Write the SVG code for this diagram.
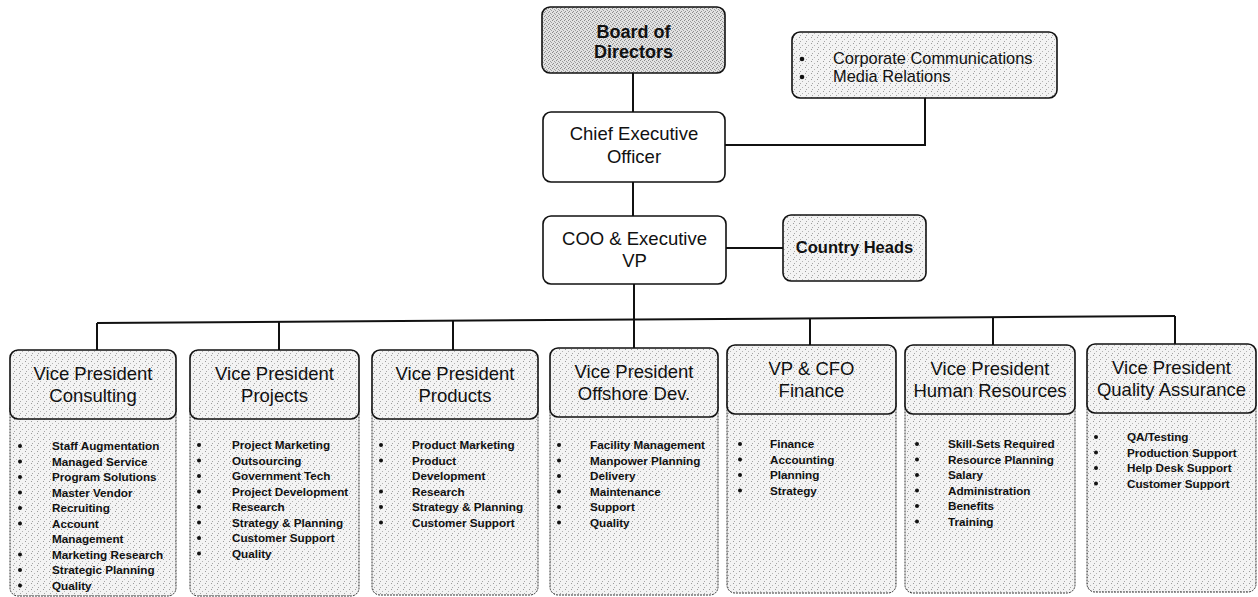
<svg xmlns="http://www.w3.org/2000/svg" width="1258" height="597" viewBox="0 0 1258 597">
<defs>
<pattern id="stip" width="6" height="6" patternUnits="userSpaceOnUse">
<rect width="6" height="6" fill="#f3f3f3"/>
<rect x="1" y="1" width="1" height="1" fill="#9a9a9a"/>
<rect x="4" y="3" width="1" height="1" fill="#b4b4b4"/>
<rect x="2" y="5" width="1" height="1" fill="#a6a6a6"/>
</pattern>
<pattern id="stipD" width="4" height="4" patternUnits="userSpaceOnUse">
<rect width="4" height="4" fill="#e2e2e2"/>
<rect x="0" y="0" width="1" height="1" fill="#8a8a8a"/>
<rect x="2" y="1" width="1" height="1" fill="#999"/>
<rect x="1" y="3" width="1" height="1" fill="#909090"/>
<rect x="3" y="2" width="1" height="1" fill="#a0a0a0"/>
</pattern>
</defs>
<style>
text{font-family:"Liberation Sans",Arial,sans-serif;fill:#111}
.box{stroke:#111;stroke-width:1.6}
.w{fill:#fff}
.s{fill:url(#stip)}
.d{fill:url(#stipD)}
.low{fill:url(#stip);stroke:#333;stroke-width:1;stroke-dasharray:2 1}
.h{font-size:18.5px;text-anchor:middle}
.hb{font-size:18px;font-weight:bold;text-anchor:middle}
.ch{font-size:16.5px;font-weight:bold;text-anchor:middle}
.cm{font-size:16.4px}
.li{font-size:11.7px;font-weight:bold}
.bul{fill:#111}
.con{fill:none;stroke:#111;stroke-width:2}
</style>
<rect width="1258" height="597" fill="#fff"/>
<g id="connectors">
<path class="con" d="M633 73V112"/>
<path class="con" d="M725 145H925V98"/>
<path class="con" d="M633 182V216"/>
<path class="con" d="M726 248H783"/>
<path class="con" d="M634 284V348"/>
<path class="con" d="M97 323L1175 316"/>
<path class="con" d="M97 323V350"/>
<path class="con" d="M279 321.8V350"/>
<path class="con" d="M453 320.7V350"/>
<path class="con" d="M810 318.4V345"/>
<path class="con" d="M993 317.2V345"/>
<path class="con" d="M1175 316V344"/>
</g>
<g id="board">
<rect class="box d" x="542" y="7" width="183" height="66" rx="8"/>
<text class="hb" x="633.5" y="38">Board of</text>
<text class="hb" x="633.5" y="58">Directors</text>
</g>
<g id="ceo">
<rect class="box w" x="543" y="112" width="182" height="70" rx="8"/>
<text class="h" x="634" y="140">Chief Executive</text>
<text class="h" x="634" y="163">Officer</text>
</g>
<g id="communications">
<rect class="box s" x="792" y="32" width="265" height="66" rx="8"/>
<circle class="bul" cx="802" cy="59" r="2.3"/>
<circle class="bul" cx="802" cy="77" r="2.3"/>
<text class="cm" x="833" y="64">Corporate Communications</text>
<text class="cm" x="833" y="82">Media Relations</text>
</g>
<g id="coo">
<rect class="box w" x="543" y="216" width="183" height="68" rx="8"/>
<text class="h" x="634.5" y="245">COO &amp; Executive</text>
<text class="h" x="634.5" y="267">VP</text>
</g>
<g id="country-heads">
<rect class="box s" x="783" y="215" width="143" height="66" rx="8"/>
<text class="ch" x="854.5" y="253">Country Heads</text>
</g>
<g id="vp-consulting">
<rect class="low" x="10" y="400" width="166" height="196" rx="8"/>
<rect class="box s" x="10" y="350" width="166" height="69" rx="8"/>
<text class="h" x="93" y="380">Vice President</text>
<text class="h" x="93" y="402">Consulting</text>
<g class="bul"><circle cx="20" cy="446" r="2"/><circle cx="20" cy="461.5" r="2"/><circle cx="20" cy="477" r="2"/><circle cx="20" cy="492.5" r="2"/><circle cx="20" cy="508" r="2"/><circle cx="20" cy="523.5" r="2"/><circle cx="20" cy="554.5" r="2"/><circle cx="20" cy="570" r="2"/><circle cx="20" cy="585.5" r="2"/></g>
<text class="li" x="52" y="450">Staff Augmentation</text>
<text class="li" x="52" y="465.5">Managed Service</text>
<text class="li" x="52" y="481">Program Solutions</text>
<text class="li" x="52" y="496.5">Master Vendor</text>
<text class="li" x="52" y="512">Recruiting</text>
<text class="li" x="52" y="527.5">Account</text>
<text class="li" x="52" y="543">Management</text>
<text class="li" x="52" y="558.5">Marketing Research</text>
<text class="li" x="52" y="574">Strategic Planning</text>
<text class="li" x="52" y="589.5">Quality</text>
</g>
<g id="vp-projects">
<rect class="low" x="190" y="400" width="169" height="196" rx="8"/>
<rect class="box s" x="190" y="350" width="169" height="69" rx="8"/>
<text class="h" x="274.5" y="380">Vice President</text>
<text class="h" x="274.5" y="402">Projects</text>
<g class="bul"><circle cx="199" cy="445" r="2"/><circle cx="199" cy="460.5" r="2"/><circle cx="199" cy="476" r="2"/><circle cx="199" cy="491.5" r="2"/><circle cx="199" cy="507" r="2"/><circle cx="199" cy="522.5" r="2"/><circle cx="199" cy="538" r="2"/><circle cx="199" cy="553.5" r="2"/></g>
<text class="li" x="232" y="449">Project Marketing</text>
<text class="li" x="232" y="464.5">Outsourcing</text>
<text class="li" x="232" y="480">Government Tech</text>
<text class="li" x="232" y="495.5">Project Development</text>
<text class="li" x="232" y="511">Research</text>
<text class="li" x="232" y="526.5">Strategy &amp; Planning</text>
<text class="li" x="232" y="542">Customer Support</text>
<text class="li" x="232" y="557.5">Quality</text>
</g>
<g id="vp-products">
<rect class="low" x="372" y="400" width="166" height="195" rx="8"/>
<rect class="box s" x="372" y="350" width="166" height="69" rx="8"/>
<text class="h" x="455" y="380">Vice President</text>
<text class="h" x="455" y="402">Products</text>
<g class="bul"><circle cx="381" cy="445" r="2"/><circle cx="381" cy="460.5" r="2"/><circle cx="381" cy="491.5" r="2"/><circle cx="381" cy="507" r="2"/><circle cx="381" cy="522.5" r="2"/></g>
<text class="li" x="412" y="449">Product Marketing</text>
<text class="li" x="412" y="464.5">Product</text>
<text class="li" x="412" y="480">Development</text>
<text class="li" x="412" y="495.5">Research</text>
<text class="li" x="412" y="511">Strategy &amp; Planning</text>
<text class="li" x="412" y="526.5">Customer Support</text>
</g>
<g id="vp-offshore">
<rect class="low" x="550" y="398" width="168" height="197" rx="8"/>
<rect class="box s" x="550" y="348" width="168" height="69" rx="8"/>
<text class="h" x="634" y="378">Vice President</text>
<text class="h" x="634" y="400">Offshore Dev.</text>
<g class="bul"><circle cx="559" cy="445" r="2"/><circle cx="559" cy="460.5" r="2"/><circle cx="559" cy="476" r="2"/><circle cx="559" cy="491.5" r="2"/><circle cx="559" cy="507" r="2"/><circle cx="559" cy="522.5" r="2"/></g>
<text class="li" x="590" y="449">Facility Management</text>
<text class="li" x="590" y="464.5">Manpower Planning</text>
<text class="li" x="590" y="480">Delivery</text>
<text class="li" x="590" y="495.5">Maintenance</text>
<text class="li" x="590" y="511">Support</text>
<text class="li" x="590" y="526.5">Quality</text>
</g>
<g id="vp-finance">
<rect class="low" x="727" y="395" width="169" height="198" rx="8"/>
<rect class="box s" x="727" y="345" width="169" height="69" rx="8"/>
<text class="h" x="811.5" y="375">VP &amp; CFO</text>
<text class="h" x="811.5" y="397">Finance</text>
<g class="bul"><circle cx="740" cy="444" r="2"/><circle cx="740" cy="459.5" r="2"/><circle cx="740" cy="475" r="2"/><circle cx="740" cy="490.5" r="2"/></g>
<text class="li" x="770" y="448">Finance</text>
<text class="li" x="770" y="463.5">Accounting</text>
<text class="li" x="770" y="479">Planning</text>
<text class="li" x="770" y="494.5">Strategy</text>
</g>
<g id="vp-hr">
<rect class="low" x="905" y="395" width="170" height="198" rx="8"/>
<rect class="box s" x="905" y="345" width="170" height="69" rx="8"/>
<text class="h" x="990" y="375">Vice President</text>
<text class="h" x="990" y="397">Human Resources</text>
<g class="bul"><circle cx="917" cy="444" r="2"/><circle cx="917" cy="459.5" r="2"/><circle cx="917" cy="475" r="2"/><circle cx="917" cy="490.5" r="2"/><circle cx="917" cy="506" r="2"/><circle cx="917" cy="521.5" r="2"/></g>
<text class="li" x="948" y="448">Skill-Sets Required</text>
<text class="li" x="948" y="463.5">Resource Planning</text>
<text class="li" x="948" y="479">Salary</text>
<text class="li" x="948" y="494.5">Administration</text>
<text class="li" x="948" y="510">Benefits</text>
<text class="li" x="948" y="525.5">Training</text>
</g>
<g id="vp-qa">
<rect class="low" x="1087" y="394" width="169" height="198" rx="8"/>
<rect class="box s" x="1087" y="344" width="169" height="69" rx="8"/>
<text class="h" x="1171.5" y="374">Vice President</text>
<text class="h" x="1171.5" y="396">Quality Assurance</text>
<g class="bul"><circle cx="1096" cy="437" r="2"/><circle cx="1096" cy="452.5" r="2"/><circle cx="1096" cy="468" r="2"/><circle cx="1096" cy="483.5" r="2"/></g>
<text class="li" x="1127" y="441">QA/Testing</text>
<text class="li" x="1127" y="456.5">Production Support</text>
<text class="li" x="1127" y="472">Help Desk Support</text>
<text class="li" x="1127" y="487.5">Customer Support</text>
</g>
</svg>
